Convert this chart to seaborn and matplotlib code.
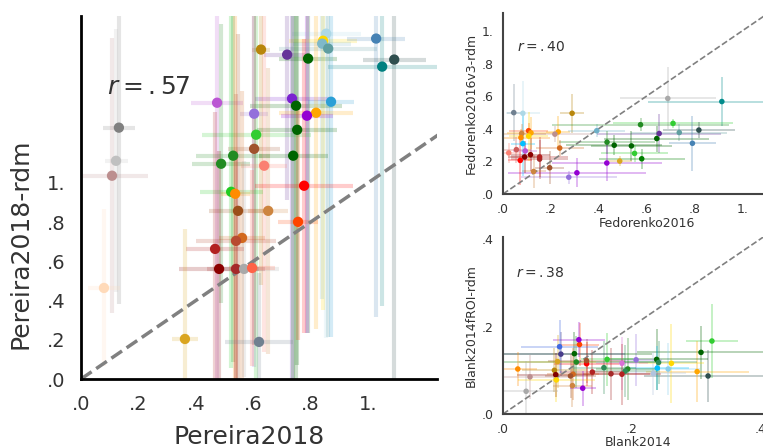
import numpy as np
import pandas as pd
import seaborn as sns
import matplotlib.pyplot as plt

sns.set_style("white")
plt.rcParams['font.family'] = ['DejaVu Sans']

# --- Pereira2018 (main panel) ---
per_x = [0.627, 0.718, 0.791, 0.854, 0.843, 0.840, 0.861, 1.028, 1.091, 1.049,
         0.474, 0.735, 0.749, 0.871, 0.603, 0.819, 0.787, 0.753, 0.610, 0.603,
         0.530, 0.488, 0.739, 0.638, 0.777, 0.523, 0.537, 0.132, 0.122, 0.108,
         0.547, 0.652, 0.756, 0.561, 0.540, 0.467, 0.481, 0.540, 0.568, 0.596,
         0.080, 0.362, 0.620]
per_y = [1.679, 1.653, 1.633, 1.760, 1.724, 1.709, 1.684, 1.735, 1.628, 1.592,
         1.408, 1.429, 1.393, 1.413, 1.352, 1.357, 1.342, 1.270, 1.245, 1.173,
         1.138, 1.097, 1.138, 1.087, 0.985, 0.954, 0.944, 1.281, 1.112, 1.036,
         0.857, 0.857, 0.801, 0.719, 0.704, 0.663, 0.561, 0.561, 0.561, 0.566,
         0.464, 0.204, 0.189]
per_xerr = [0.03, 0.08, 0.10, 0.12, 0.12, 0.10, 0.17, 0.10, 0.11, 0.19,
            0.09, 0.13, 0.16, 0.08, 0.05, 0.13, 0.09, 0.14, 0.19, 0.09,
            0.13, 0.10, 0.12, 0.08, 0.17, 0.11, 0.05, 0.055, 0.04, 0.125,
            0.10, 0.07, 0.07, 0.08, 0.14, 0.10, 0.14, 0.10, 0.12, 0.08,
            0.055, 0.045, 0.12]
per_yerr = [1.20, 0.74, 1.40, 1.55, 1.37, 1.30, 1.47, 1.42, 1.70, 1.22,
            1.50, 1.50, 1.45, 1.20, 1.29, 1.10, 1.11, 1.20, 1.25, 1.00,
            1.05, 0.71, 1.20, 0.95, 0.75, 0.90, 1.00, 0.90, 0.67, 0.70,
            0.90, 0.73, 0.60, 0.75, 0.75, 0.70, 0.60, 0.60, 0.55, 0.50,
            0.40, 0.56, 0.35]
per_col = ['darkgoldenrod', 'rebeccapurple', 'darkgreen', 'lightblue', 'gold',
           '#7fb8c8', 'cadetblue', 'steelblue', 'darkslategray', 'teal',
           'mediumorchid', '#7a22d0', 'darkgreen', '#2a9fd6', 'mediumpurple',
           'orange', 'darkviolet', 'darkgreen', 'limegreen', 'sienna',
           'forestgreen', 'forestgreen', 'darkgreen', 'salmon', 'red',
           '#22cc22', 'darkorange', 'gray', 'silver', 'rosybrown',
           '#9b4f1a', 'peru', 'orangered', 'chocolate', '#b84a30',
           'firebrick', 'darkred', 'brown', 'darkgray', 'tomato',
           'peachpuff', 'goldenrod', 'slategray']

# --- Fedorenko2016 (top right) ---
fed_x = [0.045, 0.083, 0.289, 0.689, 0.915, 0.392, 0.575, 0.711, 0.653, 0.737,
         0.819, 0.792, 0.643, 0.435, 0.465, 0.537, 0.550, 0.580, 0.434, 0.488,
         0.309, 0.275, 0.195, 0.128, 0.153, 0.153, 0.115, 0.090, 0.072, 0.056,
         0.024, 0.093, 0.083, 0.078, 0.075, 0.107, 0.117, 0.107, 0.231, 0.217,
         0.237]
fed_y = [0.499, 0.495, 0.495, 0.586, 0.567, 0.388, 0.425, 0.433, 0.371, 0.377,
         0.392, 0.311, 0.340, 0.318, 0.299, 0.295, 0.249, 0.216, 0.190, 0.202,
         0.130, 0.103, 0.161, 0.138, 0.214, 0.227, 0.241, 0.227, 0.206, 0.272,
         0.252, 0.264, 0.309, 0.371, 0.346, 0.388, 0.375, 0.355, 0.381, 0.367,
         0.282]
fed_xerr = [0.03, 0.07, 0.05, 0.20, 0.31, 0.12, 0.37, 0.25, 0.26, 0.20,
            0.15, 0.10, 0.22, 0.20, 0.20, 0.17, 0.14, 0.18, 0.23, 0.05,
            0.29, 0.20, 0.06, 0.05, 0.12, 0.12, 0.08, 0.07, 0.05, 0.06,
            0.05, 0.05, 0.05, 0.10, 0.12, 0.08, 0.10, 0.08, 0.05, 0.15,
            0.10]
fed_yerr = [0.175, 0.20, 0.12, 0.19, 0.15, 0.04, 0.04, 0.03, 0.12, 0.05,
            0.05, 0.17, 0.08, 0.07, 0.06, 0.09, 0.05, 0.06, 0.11, 0.03,
            0.09, 0.04, 0.10, 0.10, 0.12, 0.12, 0.10, 0.10, 0.15, 0.08,
            0.06, 0.05, 0.20, 0.06, 0.05, 0.05, 0.10, 0.15, 0.10, 0.05,
            0.05]
fed_col = ['slategray', 'lightblue', 'darkgoldenrod', 'darkgray', 'darkcyan',
           '#6fb0c8', 'forestgreen', 'limegreen', 'rebeccapurple', 'cadetblue',
           'darkslategray', 'steelblue', 'darkgreen', 'forestgreen', 'darkgreen',
           'darkgreen', 'limegreen', 'green', 'darkviolet', 'goldenrod',
           'darkviolet', 'mediumpurple', 'sienna', 'peru', 'brown',
           'firebrick', 'darkred', 'maroon', 'red', 'indianred',
           'salmon', 'mediumorchid', 'deepskyblue', 'peru', 'darkorange',
           'orangered', 'orange', 'gold', 'orange', 'rosybrown',
           'chocolate']

# --- Blank2014 (bottom right) ---
blk_x = [0.325, 0.308, 0.319, 0.302, 0.262, 0.257, 0.239, 0.242, 0.240, 0.234,
         0.207, 0.185, 0.194, 0.190, 0.185, 0.168, 0.162, 0.157, 0.139, 0.130,
         0.130, 0.114, 0.111, 0.119, 0.118, 0.090, 0.088, 0.085, 0.080, 0.082,
         0.083, 0.109, 0.105, 0.108, 0.124, 0.042, 0.036, 0.023]
blk_y = [0.167, 0.141, 0.087, 0.097, 0.116, 0.103, 0.125, 0.118, 0.105, 0.093,
         0.124, 0.116, 0.103, 0.098, 0.091, 0.092, 0.125, 0.106, 0.096, 0.115,
         0.122, 0.119, 0.138, 0.159, 0.170, 0.137, 0.154, 0.120, 0.100, 0.090,
         0.078, 0.091, 0.087, 0.065, 0.059, 0.085, 0.052, 0.103]
blk_xerr = [0.04, 0.10, 0.10, 0.08, 0.05, 0.05, 0.08, 0.06, 0.05, 0.05,
            0.04, 0.04, 0.05, 0.05, 0.06, 0.06, 0.04, 0.05, 0.05, 0.05,
            0.06, 0.13, 0.12, 0.03, 0.04, 0.10, 0.06, 0.06, 0.05, 0.06,
            0.06, 0.04, 0.04, 0.03, 0.02, 0.06, 0.05, 0.03]
blk_yerr = [0.085, 0.06, 0.06, 0.07, 0.09, 0.06, 0.07, 0.05, 0.05, 0.05,
            0.06, 0.06, 0.07, 0.06, 0.07, 0.06, 0.06, 0.06, 0.05, 0.05,
            0.05, 0.06, 0.05, 0.05, 0.04, 0.05, 0.06, 0.06, 0.05, 0.05,
            0.05, 0.06, 0.05, 0.05, 0.04, 0.05, 0.07, 0.04]
blk_col = ['limegreen', 'darkgreen', 'darkslategray', 'orange', 'gold',
           'skyblue', 'darkgreen', 'seagreen', 'deepskyblue', 'lightsteelblue',
           'mediumpurple', 'orchid', 'forestgreen', 'seagreen', 'firebrick',
           'brown', 'limegreen', 'seagreen', 'firebrick', 'red',
           'sienna', 'forestgreen', 'darkgreen', 'orangered', 'darkviolet',
           'darkslateblue', 'royalblue', 'goldenrod', 'darkgoldenrod', 'maroon',
           'gold', 'chocolate', 'sienna', 'peru', 'darkviolet',
           'rosybrown', 'darkgray', 'darkorange']

tick_main = [0, 0.2, 0.4, 0.6, 0.8, 1.0]
tick_main_lbl = ['.0', '.2', '.4', '.6', '.8', '1.']
tick_blank = [0, 0.2, 0.4]
tick_blank_lbl = ['.0', '.2', '.4']


def panel(ax, xs, ys, xe, ye, cols, ms, elw, ealpha, dash_lw):
    df = pd.DataFrame({'x': xs, 'y': ys, 'id': [str(i) for i in range(len(xs))]})
    for i in range(len(xs)):
        ax.errorbar(xs[i], ys[i], xerr=xe[i], yerr=ye[i], fmt='none',
                    ecolor=cols[i], elinewidth=elw, alpha=ealpha, zorder=1)
    lim = 3
    ax.plot([0, lim], [0, lim], ls='--', color='gray', lw=dash_lw, zorder=2)
    sns.scatterplot(data=df, x='x', y='y', hue='id',
                    palette=dict(zip(df['id'], cols)), legend=False,
                    s=ms, edgecolor='none', ax=ax, zorder=3)


fig = plt.figure(figsize=(7.63, 4.48), dpi=100)

# main
ax = fig.add_axes([81 / 763, 69 / 448, 356 / 763, 363 / 448])
panel(ax, per_x, per_y, per_xerr, per_yerr, per_col, 55, 3.0, 0.2, 2.5)
ax.set_xlim(0, 1.24)
ax.set_ylim(0, 1.85)
ax.set_xticks(tick_main, tick_main_lbl)
ax.set_yticks(tick_main, tick_main_lbl)
ax.tick_params(labelsize=14, colors='#333333', pad=8)
ax.set_xlabel('Pereira2018', fontsize=18, color='#333333')
ax.set_ylabel('Pereira2018-rdm', fontsize=18, color='#333333')
ax.xaxis.set_label_coords(0.472, -0.127)
ax.yaxis.set_label_coords(-0.135, 0.372)
ax.text(0.073, 0.804, r'$r = .57$', transform=ax.transAxes, fontsize=18,
        color='#333333', va='center')
sns.despine(ax=ax)
for s in ['left', 'bottom']:
    ax.spines[s].set_color('black')
    ax.spines[s].set_linewidth(2)

# top right
ax2 = fig.add_axes([503 / 763, 254 / 448, 287 / 763, 181 / 448])
panel(ax2, fed_x, fed_y, fed_xerr, fed_yerr, fed_col, 16, 1.3, 0.3, 1.2)
ax2.set_xlim(0, 1.2)
ax2.set_ylim(0, 1.11)
ax2.set_xticks(tick_main, tick_main_lbl)
ax2.set_yticks(tick_main, tick_main_lbl)
ax2.tick_params(labelsize=9, colors='#333333', pad=3)
ax2.set_xlabel('Fedorenko2016', fontsize=9, color='#333333', labelpad=1)
ax2.set_ylabel('Fedorenko2016v3-rdm', fontsize=9, color='#333333', labelpad=3)
ax2.text(0.049, 0.812, r'$r = .40$', transform=ax2.transAxes, fontsize=10,
         color='#333333', va='center')
sns.despine(ax=ax2)
for s in ['left', 'bottom']:
    ax2.spines[s].set_color('#444444')
    ax2.spines[s].set_linewidth(1.5)

# bottom right
ax3 = fig.add_axes([503 / 763, 34 / 448, 270 / 763, 177 / 448])
panel(ax3, blk_x, blk_y, blk_xerr, blk_yerr, blk_col, 16, 1.3, 0.3, 1.2)
ax3.set_xlim(0, 0.42)
ax3.set_ylim(0, 0.405)
ax3.set_xticks(tick_blank, tick_blank_lbl)
ax3.set_yticks(tick_blank, tick_blank_lbl)
ax3.tick_params(labelsize=9, colors='#333333', pad=3)
ax3.set_xlabel('Blank2014', fontsize=9, color='#333333', labelpad=0)
ax3.set_ylabel('Blank2014fROI-rdm', fontsize=9, color='#333333', labelpad=3)
ax3.text(0.048, 0.797, r'$r = .38$', transform=ax3.transAxes, fontsize=10,
         color='#333333', va='center')
sns.despine(ax=ax3)
for s in ['left', 'bottom']:
    ax3.spines[s].set_color('#444444')
    ax3.spines[s].set_linewidth(1.5)

fig.savefig('out.png', dpi=100)
